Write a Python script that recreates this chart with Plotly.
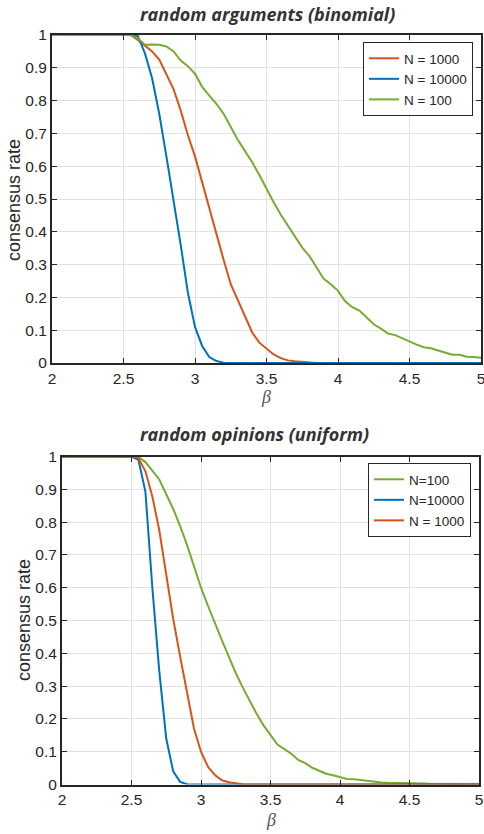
import plotly.graph_objects as go

# ---------------- data ----------------
beta = [2.00, 2.05, 2.10, 2.15, 2.20, 2.25, 2.30, 2.35, 2.40, 2.45,
        2.50, 2.55, 2.60, 2.65, 2.70, 2.75, 2.80, 2.85, 2.90, 2.95,
        3.00, 3.05, 3.10, 3.15, 3.20, 3.25, 3.30, 3.35, 3.40, 3.45,
        3.50, 3.55, 3.60, 3.65, 3.70, 3.75, 3.80, 3.85, 3.90, 3.95,
        4.00, 4.05, 4.10, 4.15, 4.20, 4.25, 4.30, 4.35, 4.40, 4.45,
        4.50, 4.55, 4.60, 4.65, 4.70, 4.75, 4.80, 4.85, 4.90, 4.95,
        5.00]

# top panel: random arguments (binomial)
binom_n1000 = [1.0] * 12 + [
    0.985, 0.968, 0.95, 0.925, 0.88, 0.835, 0.77, 0.695, 0.63, 0.55,
    0.475, 0.395, 0.315, 0.24, 0.19, 0.14, 0.093, 0.062, 0.045, 0.026,
    0.015, 0.008, 0.005, 0.003, 0.001] + [0.0] * 24
binom_n10000 = [1.0] * 12 + [
    0.997, 0.944, 0.868, 0.76, 0.63, 0.50, 0.36, 0.215, 0.11, 0.052,
    0.018, 0.006, 0.001] + [0.0] * 36
binom_n100 = [1.0] * 12 + [
    0.99, 0.97, 0.971, 0.97, 0.965, 0.95, 0.922, 0.905, 0.882, 0.842,
    0.815, 0.79, 0.76, 0.718, 0.68, 0.646, 0.612, 0.573, 0.53, 0.49,
    0.452, 0.42, 0.385, 0.352, 0.326, 0.29, 0.257, 0.24, 0.22, 0.188,
    0.17, 0.16, 0.138, 0.118, 0.105, 0.09, 0.085, 0.075, 0.065, 0.056,
    0.048, 0.045, 0.038, 0.032, 0.025, 0.025, 0.019, 0.018, 0.016]

# bottom panel: random opinions (uniform)
unif_n100 = [1.0] * 11 + [
    0.999, 0.983, 0.958, 0.93, 0.885, 0.84, 0.788, 0.73, 0.665, 0.60,
    0.545, 0.49, 0.44, 0.39, 0.34, 0.296, 0.255, 0.216, 0.18, 0.15,
    0.122, 0.108, 0.094, 0.075, 0.065, 0.051, 0.041, 0.033, 0.028, 0.023,
    0.017, 0.016, 0.013, 0.011, 0.009, 0.006, 0.005, 0.005, 0.004, 0.004,
    0.003, 0.003, 0.002, 0.002, 0.002, 0.001, 0.001, 0.001, 0.001, 0.001]
unif_n10000 = [1.0] * 11 + [
    0.99, 0.893, 0.60, 0.345, 0.14, 0.04, 0.008, 0.001] + [0.0] * 42
unif_n1000 = [1.0] * 11 + [
    0.995, 0.955, 0.878, 0.775, 0.64, 0.505, 0.39, 0.275, 0.17, 0.10,
    0.054, 0.029, 0.013, 0.007, 0.003, 0.001] + [0.0] * 34

x_ticks = [2, 2.5, 3, 3.5, 4, 4.5, 5]
x_ticktext = ["2", "2.5", "3", "3.5", "4", "4.5", "5"]
y_ticks = [0, 0.1, 0.2, 0.3, 0.4, 0.5, 0.6, 0.7, 0.8, 0.9, 1]
y_ticktext = ["0", "0.1", "0.2", "0.3", "0.4", "0.5", "0.6", "0.7", "0.8", "0.9", "1"]

title_top = "random arguments (binomial)"
title_bottom = "random opinions (uniform)"
ylabel = "consensus rate"
xlabel = "β"

# ---------------- layout helpers ----------------
W, H = 484, 834


def fx(p):
    return p / W


def fy(p):
    return 1 - p / H


BLUE = "#0072BD"
ORANGE = "#D95319"
GREEN = "#77AC30"
AX = "#262626"
TICKFONT = dict(family="Liberation Sans, Arial, sans-serif", size=15.5, color=AX)

fig = go.Figure()

top_series = [("N = 1000", binom_n1000, ORANGE),
              ("N = 10000", binom_n10000, BLUE),
              ("N = 100", binom_n100, GREEN)]
bottom_series = [("N=100", unif_n100, GREEN),
                 ("N=10000", unif_n10000, BLUE),
                 ("N = 1000", unif_n1000, ORANGE)]

for name, vals, col in top_series:
    fig.add_trace(go.Scatter(x=beta, y=vals, name=name, mode="lines",
                             line=dict(color=col, width=2),
                             xaxis="x", yaxis="y", legend="legend"))
for name, vals, col in bottom_series:
    fig.add_trace(go.Scatter(x=beta, y=vals, name=name, mode="lines",
                             line=dict(color=col, width=2),
                             xaxis="x2", yaxis="y2", legend="legend2"))

common = dict(showgrid=True, gridcolor="#e2e2e2", gridwidth=1,
              showline=True, linecolor=AX, linewidth=2, mirror="ticks",
              ticks="inside", ticklen=5, tickwidth=1, tickcolor=AX,
              zeroline=False, tickfont=TICKFONT, fixedrange=True,
              automargin=False, ticklabeloverflow="allow")

LEGFONT = dict(family="Liberation Sans, Arial, sans-serif", size=13.5, color=AX)

fig.update_layout(
    width=W, height=H,
    margin=dict(l=0, r=0, t=0, b=0, autoexpand=False),
    paper_bgcolor="white", plot_bgcolor="white",
    xaxis=dict(domain=[fx(52), fx(481)], range=[2, 5], anchor="y",
               tickvals=x_ticks, ticktext=x_ticktext, **common),
    yaxis=dict(domain=[fy(363), fy(35)], range=[0, 1], anchor="x",
               tickvals=y_ticks, ticktext=y_ticktext, **common),
    xaxis2=dict(domain=[fx(62), fx(479)], range=[2, 5], anchor="y2",
                tickvals=x_ticks, ticktext=x_ticktext, **common),
    yaxis2=dict(domain=[fy(784.5), fy(456.5)], range=[0, 1], anchor="x2",
                tickvals=y_ticks, ticktext=y_ticktext, **common),
    legend=dict(x=fx(473), y=fy(42), xanchor="right", yanchor="top",
                bgcolor="white", bordercolor=AX, borderwidth=1,
                font=LEGFONT, tracegroupgap=0, itemwidth=30),
    legend2=dict(x=fx(471), y=fy(463), xanchor="right", yanchor="top",
                 bgcolor="white", bordercolor=AX, borderwidth=1,
                 font=LEGFONT, tracegroupgap=0, itemwidth=30),
    showlegend=True,
)

TITLEFONT = dict(family="Open Sans, sans-serif", size=18, color="#333333",
                 weight="bold", style="italic")
LABELFONT = dict(family="Liberation Sans, Arial, sans-serif", size=18, color=AX)
BETAFONT = dict(family="Liberation Serif, DejaVu Serif, serif", size=18, color="#555555",
                style="italic")

annotations = [
    dict(text=title_top, x=fx(267), y=fy(14), font=TITLEFONT),
    dict(text=title_bottom, x=fx(255), y=fy(434), font=TITLEFONT),
    dict(text=ylabel, x=fx(14), y=fy(200), textangle=-90, font=LABELFONT),
    dict(text=ylabel, x=fx(24), y=fy(620), textangle=-90, font=LABELFONT),
    dict(text=xlabel, x=fx(266), y=fy(397), font=BETAFONT),
    dict(text=xlabel, x=fx(271), y=fy(820), font=BETAFONT),
]
for a in annotations:
    a.update(xref="paper", yref="paper", showarrow=False,
             xanchor="center", yanchor="middle")
fig.update_layout(annotations=annotations)

# remove the default 8 px page margin so the figure sits at the window origin
fig.write_html("out.html", config={"displayModeBar": False},
               post_script="document.body.style.margin='0px';")
